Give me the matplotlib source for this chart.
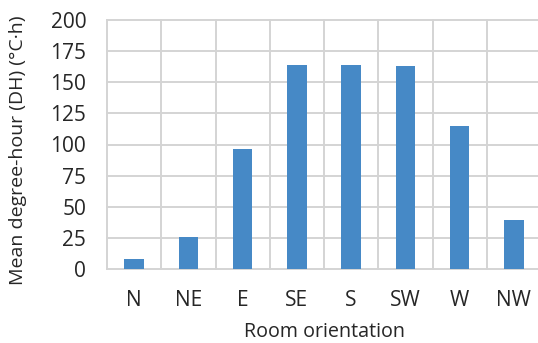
import matplotlib
matplotlib.use("Agg")
import matplotlib.pyplot as plt
import numpy as np

orientations = ["N", "NE", "E", "SE", "S", "SW", "W", "NW"]
mean_dh = [8, 26, 96, 164, 164, 163, 115, 39]
y_ticks = [0, 25, 50, 75, 100, 125, 150, 175, 200]

plt.rcParams["font.family"] = ["Open Sans", "DejaVu Sans"]
text_color = "#262626"
grid_color = "#d4d4d4"
bar_color = "#4689c6"

fig = plt.figure(figsize=(5.38, 3.43), dpi=100)
ax = fig.add_axes([107 / 538, 1 - 269 / 343, 434 / 538, 249 / 343])

x = np.arange(len(orientations))
ax.bar(x, mean_dh, width=0.36, color=bar_color, zorder=3)

ax.set_xlim(-0.5, len(orientations) - 0.5)
ax.set_ylim(0, 200)
ax.set_yticks(y_ticks)
ax.set_xticks(x)
ax.set_xticklabels(orientations)

# horizontal gridlines at y ticks, vertical ones at category boundaries
for yv in y_ticks:
    ax.axhline(yv, color=grid_color, lw=1.4, zorder=1, clip_on=False)
for xb in np.arange(-0.5, len(orientations), 1.0):
    ax.axvline(xb, color=grid_color, lw=1.4, zorder=1, clip_on=False)

for s in ax.spines.values():
    s.set_visible(False)

ax.tick_params(axis="both", length=0, labelsize=15, colors=text_color)
ax.tick_params(axis="x", pad=15)
ax.tick_params(axis="y", pad=15)

ax.set_xlabel("Room orientation", fontsize=14.2, color=text_color, labelpad=8)
ax.set_ylabel("Mean degree-hour (DH) (°C·h)", fontsize=14, color=text_color)
ax.yaxis.set_label_coords(-0.185, 0.475)

fig.savefig("out.png", dpi=100)
